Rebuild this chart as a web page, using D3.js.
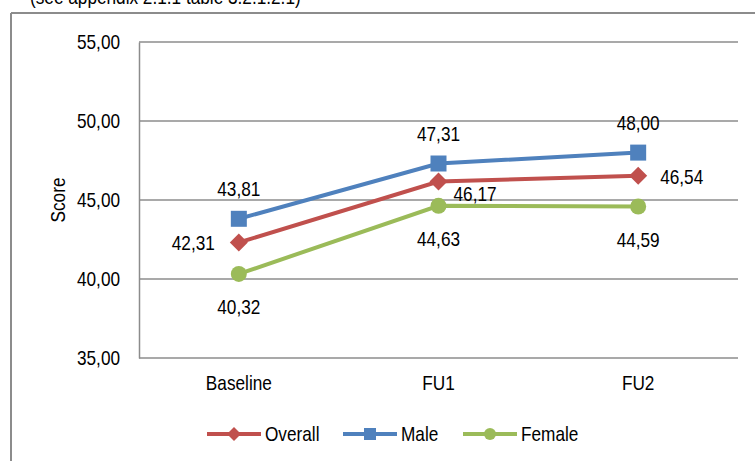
<!DOCTYPE html>
<html><head><meta charset="utf-8">
<script src="https://cdn.jsdelivr.net/npm/d3@7"></script>
<style>
html,body{margin:0;padding:0;background:#fff;}
svg text{font-family:"Liberation Sans",Arial,sans-serif;fill:#000;}
</style></head>
<body><svg id="c" width="755" height="461"></svg>
<script>
const categories = ["Baseline", "FU1", "FU2"];
const overall = [42.31, 46.17, 46.54];
const male = [43.81, 47.31, 48.00];
const female = [40.32, 44.63, 44.59];
const yTicks = [35, 40, 45, 50, 55];
const seriesNames = ["Overall", "Male", "Female"];
const noteText = "(see appendix 2.1.1 table 3.2.1.2.1)";

const svg = d3.select("#c");
const fs = 21;
const SX = 0.82; // condensed face
const fmt = v => v.toFixed(2).replace(".", ",");

function narrow(sel){
  sel.each(function(){
    const t = d3.select(this);
    const x0 = +(t.attr("x") || 0);
    const prev = t.attr("transform") || "";
    t.attr("transform", `${prev} translate(${x0},0) scale(${SX},1) translate(${-x0},0)`);
  });
  return sel;
}

// outer frame
svg.append("line").attr("x1",11).attr("x2",760).attr("y1",13).attr("y2",13).attr("stroke","#8c8c8c").attr("stroke-width",2);
svg.append("line").attr("x1",11).attr("x2",11).attr("y1",13).attr("y2",470).attr("stroke","#8c8c8c").attr("stroke-width",2);
narrow(svg.append("text").attr("x",30).attr("y",4).attr("font-size",fs).text(noteText));

const x = d3.scaleBand().domain(categories).range([139, 738]);
const y = d3.scaleLinear().domain([35, 55]).range([358, 42]);

// grid
svg.append("g").selectAll("line").data(yTicks).join("line")
  .attr("x1",139).attr("x2",738).attr("y1",d=>y(d)).attr("y2",d=>y(d))
  .attr("stroke","#8c8c8c").attr("stroke-width",1.5);

// y axis
const ya = svg.append("g").attr("transform","translate(139,0)")
  .call(d3.axisLeft(y).tickValues(yTicks).tickSize(0).tickPadding(19).tickFormat(fmt));
ya.select(".domain").attr("stroke","#8c8c8c").attr("stroke-width",1.5);
narrow(ya.selectAll("text").attr("font-size",fs).attr("font-family",null));

// x axis
const xa = svg.append("g").attr("transform","translate(0,358)")
  .call(d3.axisBottom(x).tickSize(0).tickPadding(17));
xa.select(".domain").remove();
narrow(xa.selectAll("text").attr("font-size",fs).attr("font-family",null));

narrow(svg.append("text").attr("transform","translate(65,200) rotate(-90)").attr("text-anchor","middle")
  .attr("font-size",fs).text("Score"));

const cx = c => x(c) + x.bandwidth()/2;
const series = [
  {name:seriesNames[0], vals:overall, color:"#C0504D", marker:"diamond"},
  {name:seriesNames[1], vals:male, color:"#4F81BD", marker:"square"},
  {name:seriesNames[2], vals:female, color:"#9BBB59", marker:"circle"}
];
const line = d3.line().x((d,i)=>cx(categories[i])).y(d=>y(d));

function drawMarker(g, type, px, py, color){
  if(type==="square") g.append("rect").attr("x",px-8).attr("y",py-8).attr("width",16).attr("height",16).attr("fill",color);
  else if(type==="diamond") g.append("path").attr("d",`M${px},${py-9}L${px+9},${py}L${px},${py+9}L${px-9},${py}Z`).attr("fill",color);
  else g.append("circle").attr("cx",px).attr("cy",py).attr("r",8).attr("fill",color);
}

series.forEach(s=>{
  const g = svg.append("g");
  g.append("path").datum(s.vals).attr("d",line).attr("fill","none").attr("stroke",s.color).attr("stroke-width",4);
  s.vals.forEach((v,i)=>drawMarker(g, s.marker, cx(categories[i]), y(v), s.color));
});

// data labels
function label(px, py, txt, anchor){
  narrow(svg.append("text").attr("x",px).attr("y",py).attr("text-anchor",anchor).attr("dominant-baseline","central")
    .attr("font-size",fs).text(txt));
}
male.forEach((v,i)=>label(cx(categories[i]), y(v)-30, fmt(v), "middle"));
female.forEach((v,i)=>label(cx(categories[i]), y(v)+33, fmt(v), "middle"));
overall.forEach((v,i)=>{
  if(i===0) label(cx(categories[i])-24, y(v), fmt(v), "end");
  else label(cx(categories[i])+(i===1?15:22), y(v)+(i===1?12:1), fmt(v), "start");
});

// legend
const legX = [207, 343, 463];
series.forEach((s,i)=>{
  const lx = legX[i], ly = 434;
  svg.append("line").attr("x1",lx).attr("x2",lx+54).attr("y1",ly).attr("y2",ly).attr("stroke",s.color).attr("stroke-width",4);
  const g = svg.append("g");
  if(s.marker==="square") g.append("rect").attr("x",lx+27-6).attr("y",ly-6).attr("width",12).attr("height",12).attr("fill",s.color);
  else if(s.marker==="diamond") g.append("path").attr("d",`M${lx+27},${ly-7}L${lx+34},${ly}L${lx+27},${ly+7}L${lx+20},${ly}Z`).attr("fill",s.color);
  else g.append("circle").attr("cx",lx+27).attr("cy",ly).attr("r",6).attr("fill",s.color);
  narrow(svg.append("text").attr("x",lx+58).attr("y",ly).attr("dominant-baseline","central").attr("font-size",fs).text(s.name));
});
</script></body></html>
